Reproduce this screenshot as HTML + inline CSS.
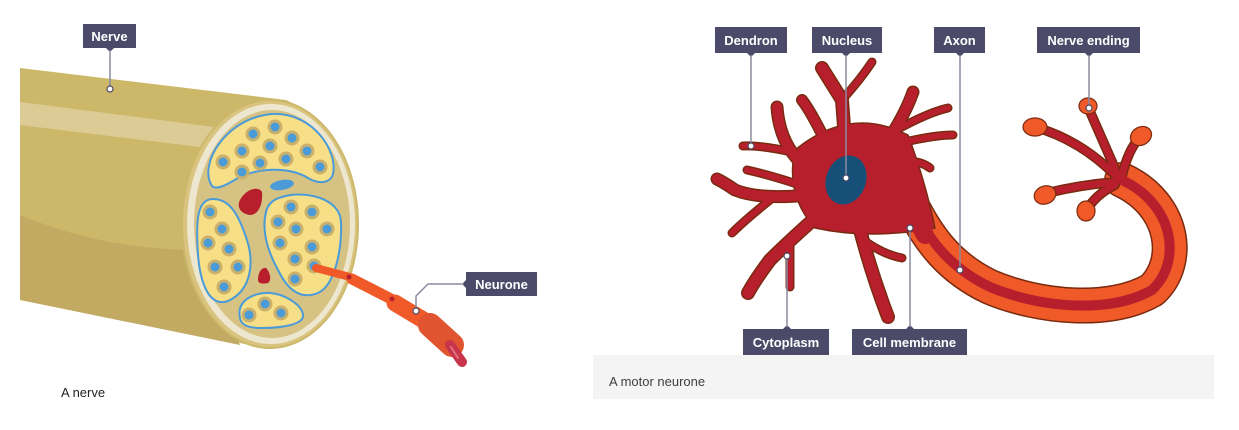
<!DOCTYPE html>
<html><head><meta charset="utf-8"><style>
html,body{margin:0;padding:0;background:#fff;width:1239px;height:430px;overflow:hidden}
svg{display:block}
.lb{font-family:"Liberation Sans",sans-serif;font-weight:bold;font-size:13px;fill:#fff}
</style></head><body>
<svg width="1239" height="430" viewBox="0 0 1239 430" xmlns="http://www.w3.org/2000/svg">
<!-- NERVE -->
<path d="M20,68 L286,100 C330,115 250,300 250,345 L20,300 Z" fill="#cdb86a"/>
<path d="M20,215 C80,240 140,250 200,250 L240,345 L20,300 Z" fill="#c2aa62"/>
<path d="M20,102 L214,127 L200,147 L20,125 Z" fill="#dccb95"/>
<ellipse cx="270" cy="224" rx="88" ry="124" fill="#d9c47f" stroke="#cdb86a" stroke-width="2"/>
<ellipse cx="271" cy="224" rx="84" ry="120" fill="#eee7cf"/>
<ellipse cx="272" cy="224" rx="78" ry="114" fill="#d6c283"/>
<g fill="#f6df86" stroke="#4b9bd9" stroke-width="2">
<path d="M212,186 C198,165 225,118 272,114 C312,112 338,150 333,174 C330,184 318,184 308,178 C292,168 262,166 238,178 C225,186 216,190 212,186 Z"/>
<path d="M212,199 C232,198 240,220 247,240 C254,262 252,290 228,301 C208,308 200,280 198,255 C196,225 196,200 212,199 Z"/>
<path d="M282,197 C305,190 340,198 341,222 C342,250 335,285 318,293 C300,300 288,290 278,270 C266,248 262,228 266,212 C268,203 274,199 282,197 Z"/>
<path d="M240,318 C236,300 255,292 270,293 C285,294 302,305 303,315 C304,325 280,328 262,328 C248,328 241,325 240,318 Z"/>
</g>
<g fill="#4b9bd9" stroke="#c9b16c" stroke-width="3">
<circle cx="275" cy="127" r="6"/><circle cx="253" cy="134" r="6"/><circle cx="292" cy="138" r="6"/><circle cx="270" cy="146" r="6"/><circle cx="242" cy="151" r="6"/><circle cx="307" cy="151" r="6"/><circle cx="223" cy="162" r="6"/><circle cx="260" cy="163" r="6"/><circle cx="286" cy="159" r="6"/><circle cx="320" cy="167" r="6"/><circle cx="242" cy="172" r="6"/>
<circle cx="210" cy="212" r="6"/><circle cx="222" cy="229" r="6"/><circle cx="208" cy="243" r="6"/><circle cx="229" cy="249" r="6"/><circle cx="215" cy="267" r="6"/><circle cx="238" cy="267" r="6"/><circle cx="224" cy="287" r="6"/>
<circle cx="291" cy="207" r="6"/><circle cx="312" cy="212" r="6"/><circle cx="278" cy="222" r="6"/><circle cx="296" cy="229" r="6"/><circle cx="327" cy="229" r="6"/><circle cx="280" cy="243" r="6"/><circle cx="312" cy="247" r="6"/><circle cx="295" cy="259" r="6"/><circle cx="314" cy="266" r="6"/><circle cx="295" cy="279" r="6"/>
<circle cx="265" cy="304" r="6"/><circle cx="249" cy="315" r="6"/><circle cx="281" cy="313" r="6"/>
</g>
<ellipse cx="282" cy="185" rx="12" ry="5" fill="#4b9bd9" transform="rotate(-10 282 185)"/>
<path d="M240,200 C245,190 258,185 262,192 C263,205 258,215 250,215 C242,214 236,208 240,200 Z" fill="#b81f2d"/>
<path d="M258,280 C258,272 262,267 266,268 C270,272 272,280 268,283 C263,284 258,284 258,280 Z" fill="#b81f2d"/>
<g stroke-linecap="round" fill="none">
<path d="M316,268 L350,277" stroke="#f05a28" stroke-width="8"/>
<path d="M352,279 L393,300" stroke="#f05a28" stroke-width="11"/>
<path d="M395,303 L440,330" stroke="#f05a28" stroke-width="17"/>
<path d="M430,325 L452,345" stroke="#e05530" stroke-width="24"/>
<path d="M450,345 L462,362" stroke="#c8354a" stroke-width="10"/>
<path d="M451,347 L458,358" stroke="#e07080" stroke-width="2"/>
</g>
<circle cx="349" cy="277" r="2.5" fill="#b81f2d"/><circle cx="392" cy="299" r="2.5" fill="#b81f2d"/>
<rect x="83" y="24" width="53" height="24" fill="#4b4a68"/>
<text x="109.5" y="41" class="lb" text-anchor="middle">Nerve</text>
<path d="M106,48 L110,52 L114,48Z" fill="#4b4a68"/>
<line x1="110" y1="50" x2="110" y2="86" stroke="#8a8aa0" stroke-width="1.5"/>
<circle cx="110" cy="89" r="3" fill="#fff" stroke="#4b4a68" stroke-width="1.2"/>
<rect x="466" y="272" width="71" height="24" fill="#4b4a68"/>
<text x="501.5" y="289" class="lb" text-anchor="middle">Neurone</text>
<path d="M466,280 L462,284 L466,288Z" fill="#4b4a68"/>
<polyline points="464,284 428,284 416,296 416,308" fill="none" stroke="#8a8aa0" stroke-width="1.5"/>
<circle cx="416" cy="311" r="3" fill="#fff" stroke="#4b4a68" stroke-width="1.2"/>
<text x="61" y="397" font-family="Liberation Sans,sans-serif" font-size="13" fill="#222">A nerve</text>
<rect x="593" y="355" width="621" height="44" fill="#f4f4f4"/>
<text x="609" y="386" font-family="Liberation Sans,sans-serif" font-size="13" fill="#404040">A motor neurone</text>
<!-- MOTOR NEURONE -->
<g fill="none" stroke-linecap="round" stroke-linejoin="round">
<path d="M915,212 C930,240 950,268 990,287 C1040,308 1110,314 1152,290 C1182,262 1175,205 1122,180" stroke="#7a2a10" stroke-width="36"/>
<path d="M915,212 C930,240 950,268 990,287 C1040,308 1110,314 1152,290 C1182,262 1175,205 1122,180" stroke="#f05a28" stroke-width="33"/>
<g stroke="#7a2a10" stroke-width="10">
<path d="M1120,180 L1088,107"/><path d="M1115,175 Q1080,140 1035,127"/><path d="M1122,176 Q1128,150 1140,137"/><path d="M1115,182 Q1080,185 1047,193"/><path d="M1115,185 Q1095,195 1087,210"/>
</g>
<g stroke="#7a2a10">
<path d="M845,140 L842,100 L822,68" stroke-width="14"/><path d="M842,100 Q860,80 872,62" stroke-width="9"/>
<path d="M825,140 Q810,110 802,100" stroke-width="12"/>
<path d="M885,145 Q905,115 913,92" stroke-width="13"/><path d="M900,128 Q930,112 948,108" stroke-width="9"/><path d="M905,142 Q935,135 953,135" stroke-width="9"/>
<path d="M905,162 Q920,160 930,168" stroke-width="9"/>
<path d="M812,172 Q780,150 777,107" stroke-width="13"/><path d="M792,152 Q760,145 743,146" stroke-width="9"/><path d="M800,185 Q770,175 747,170" stroke-width="9"/>
<path d="M808,195 Q760,200 735,190 Q725,183 717,179" stroke-width="13"/><path d="M770,200 Q745,220 732,233" stroke-width="9"/>
<path d="M822,212 Q790,240 770,260 Q755,280 748,293" stroke-width="14"/><path d="M790,245 Q790,270 790,287" stroke-width="9"/>
<path d="M858,222 Q870,270 888,317" stroke-width="14"/><path d="M866,242 Q885,255 902,258" stroke-width="9"/>
</g>
</g>
<path d="M795,150 Q850,105 908,135 Q925,180 935,228 Q870,240 815,228 Q785,195 795,150 Z" fill="#b81f2d" stroke="#7a2a10" stroke-width="1.5"/>
<g fill="none" stroke-linecap="round" stroke-linejoin="round" stroke="#b81f2d">
<path d="M845,140 L842,100 L822,68" stroke-width="11"/><path d="M842,100 Q860,80 872,62" stroke-width="6"/>
<path d="M825,140 Q810,110 802,100" stroke-width="9"/>
<path d="M885,145 Q905,115 913,92" stroke-width="10"/><path d="M900,128 Q930,112 948,108" stroke-width="6"/><path d="M905,142 Q935,135 953,135" stroke-width="6"/>
<path d="M905,162 Q920,160 930,168" stroke-width="6"/>
<path d="M812,172 Q780,150 777,107" stroke-width="10"/><path d="M792,152 Q760,145 743,146" stroke-width="6"/><path d="M800,185 Q770,175 747,170" stroke-width="6"/>
<path d="M808,195 Q760,200 735,190 Q725,183 717,179" stroke-width="10"/><path d="M770,200 Q745,220 732,233" stroke-width="6"/>
<path d="M822,212 Q790,240 770,260 Q755,280 748,293" stroke-width="11"/><path d="M790,245 Q790,270 790,287" stroke-width="6"/>
<path d="M858,222 Q870,270 888,317" stroke-width="11"/><path d="M866,242 Q885,255 902,258" stroke-width="6"/>
<path d="M900,200 Q915,215 925,235" stroke-width="18"/>
<path d="M915,212 C930,240 950,268 990,287 C1040,308 1110,314 1152,290 C1182,262 1175,205 1122,180" stroke-width="10"/>
<g stroke-width="7"><path d="M1120,180 L1088,107"/><path d="M1115,175 Q1080,140 1035,127"/><path d="M1122,176 Q1128,150 1140,137"/><path d="M1115,182 Q1080,185 1047,193"/><path d="M1115,185 Q1095,195 1087,210"/></g>
</g>
<g fill="#f05a28" stroke="#7a2a10" stroke-width="1.2">
<ellipse cx="1088" cy="106" rx="9" ry="8"/><ellipse cx="1035" cy="127" rx="12" ry="9"/><ellipse cx="1141" cy="136" rx="11" ry="9" transform="rotate(-30 1141 136)"/><ellipse cx="1045" cy="195" rx="11" ry="9" transform="rotate(-20 1045 195)"/><ellipse cx="1086" cy="211" rx="9" ry="10"/>
</g>
<ellipse cx="846" cy="180" rx="20" ry="25" fill="#164f78" transform="rotate(20 846 180)"/>
<g fill="#4b4a68">
<rect x="715" y="27" width="72" height="26"/><path d="M747,53 L751,57 L755,53Z"/>
<rect x="812" y="27" width="70" height="26"/><path d="M842,53 L846,57 L850,53Z"/>
<rect x="934" y="27" width="51" height="26"/><path d="M956,53 L960,57 L964,53Z"/>
<rect x="1037" y="27" width="103" height="26"/><path d="M1085,53 L1089,57 L1093,53Z"/>
<rect x="743" y="329" width="86" height="26"/><path d="M783,329 L787,325 L791,329Z"/>
<rect x="852" y="329" width="115" height="26"/><path d="M906,329 L910,325 L914,329Z"/>
</g>
<g stroke="#8a8aa0" stroke-width="1.5">
<line x1="751" y1="55" x2="751" y2="143"/><line x1="846" y1="55" x2="846" y2="175"/><line x1="960" y1="55" x2="960" y2="267"/><line x1="1089" y1="55" x2="1089" y2="105"/><line x1="787" y1="327" x2="787" y2="259"/><line x1="910" y1="327" x2="910" y2="231"/>
</g>
<g fill="#fff" stroke="#4b4a68" stroke-width="1.2">
<circle cx="751" cy="146" r="3"/><circle cx="846" cy="178" r="3"/><circle cx="960" cy="270" r="3"/><circle cx="1089" cy="108" r="3"/><circle cx="787" cy="256" r="3"/><circle cx="910" cy="228" r="3"/>
</g>
<text x="751" y="45" class="lb" text-anchor="middle">Dendron</text>
<text x="847" y="45" class="lb" text-anchor="middle">Nucleus</text>
<text x="959.5" y="45" class="lb" text-anchor="middle">Axon</text>
<text x="1088.5" y="45" class="lb" text-anchor="middle">Nerve ending</text>
<text x="786" y="347" class="lb" text-anchor="middle">Cytoplasm</text>
<text x="909.5" y="347" class="lb" text-anchor="middle">Cell membrane</text>
</svg>
</body></html>
